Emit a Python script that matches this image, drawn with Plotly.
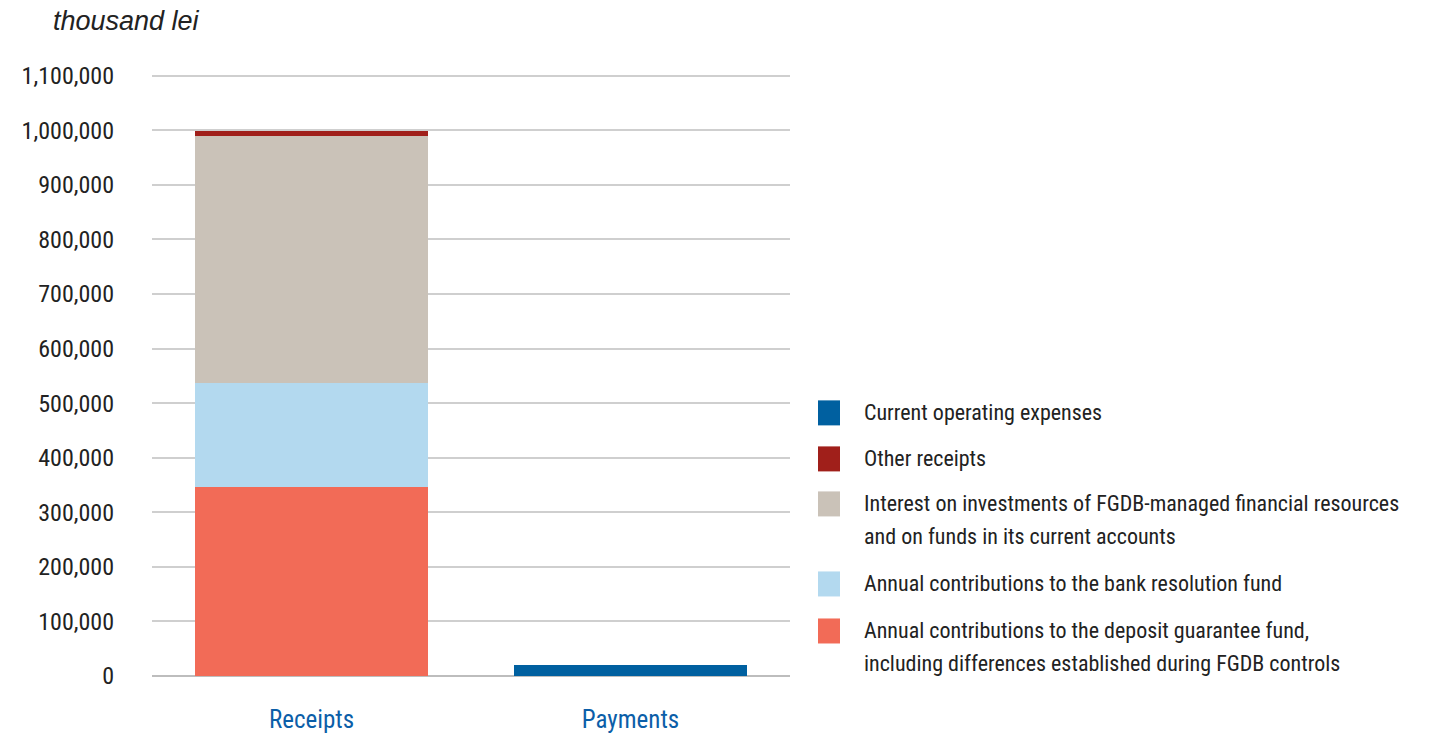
import plotly.graph_objects as go

categories = ["Receipts", "Payments"]
series_names = [
    "Annual contributions to the deposit guarantee fund,<br>including differences established during FGDB controls",
    "Annual contributions to the bank resolution fund",
    "Interest on investments of FGDB-managed financial resources<br>and on funds in its current accounts",
    "Other receipts",
    "Current operating expenses",
]
deposit_fund = [346000, None]
resolution_fund = [190500, None]
interest = [452500, None]
other_receipts = [10000, None]
operating_expenses = [None, 20000]
colors = ["#f26b57", "#b3d9ef", "#cac2b8", "#a01f1a", "#0060a0"]
y_ticks = list(range(0, 1100001, 100000))

series_values = [deposit_fund, resolution_fund, interest, other_receipts, operating_expenses]

FONT = "Liberation Sans Narrow, Roboto Condensed, Arial Narrow, Liberation Sans, sans-serif"

W, H = 1439, 734
PL, PR, PT, PB = 152, 790, 76, 676  # plot area in page px
YMAX = 1105000
PT_adj = PB - (PB - PT) * YMAX / 1100000


def px(xpage):
    return (xpage - PL) / (PR - PL)


def py(ypage):
    return (PB - ypage) / (PB - PT_adj)


fig = go.Figure()
for name, vals, col in zip(series_names, series_values, colors):
    fig.add_trace(go.Bar(x=categories, y=vals, name=name.replace("<br>", " "),
                         marker=dict(color=col, line=dict(width=0)), showlegend=False))

# custom legend (top to bottom order)
legend_order = [4, 3, 2, 1, 0]
legend_y = [413, 459, 504, 584, 631]
shapes = []
annotations = []
for idx, yc in zip(legend_order, legend_y):
    shapes.append(dict(type="rect", xref="paper", yref="paper",
                       x0=px(818), x1=px(840), y0=py(yc + 12.5), y1=py(yc - 12.5),
                       fillcolor=colors[idx], line=dict(width=0)))
    for li, line in enumerate(series_names[idx].split("<br>")):
        annotations.append(dict(xref="paper", yref="paper", x=px(862), y=py(yc + 33 * li),
                                xanchor="left", yanchor="middle", text=line, showarrow=False,
                                align="left", font=dict(family=FONT, size=22, color="#222222")))
annotations.append(dict(xref="paper", yref="paper", x=px(51), y=py(21),
                        xanchor="left", yanchor="middle", text="<i>thousand lei</i>", showarrow=False,
                        font=dict(family="Liberation Sans, Arial, sans-serif", size=27, color="#222222")))

fig.update_layout(
    barmode="stack",
    bargap=0.27,
    width=W, height=H,
    margin=dict(l=PL, r=W - PR, t=round(PT_adj), b=H - PB),
    paper_bgcolor="white", plot_bgcolor="white",
    shapes=shapes, annotations=annotations,
    showlegend=False,
    xaxis=dict(tickfont=dict(family=FONT, size=25, color="#0b5ea8"), showgrid=False,
               showline=False, ticks="", ticklabelstandoff=26, automargin=False),
    yaxis=dict(range=[0, YMAX], tickvals=y_ticks, tickformat=",",
               tickfont=dict(family=FONT, size=24, color="#222222"),
               showgrid=True, gridcolor="#cfcfcf", gridwidth=1.5,
               zeroline=True, zerolinecolor="#bdbdbd", zerolinewidth=2,
               ticklabelstandoff=37, showline=False, automargin=False),
)

fig.write_html("out.html", config={"displayModeBar": False},
               post_script="document.body.style.margin='0';document.body.style.overflow='hidden';")
